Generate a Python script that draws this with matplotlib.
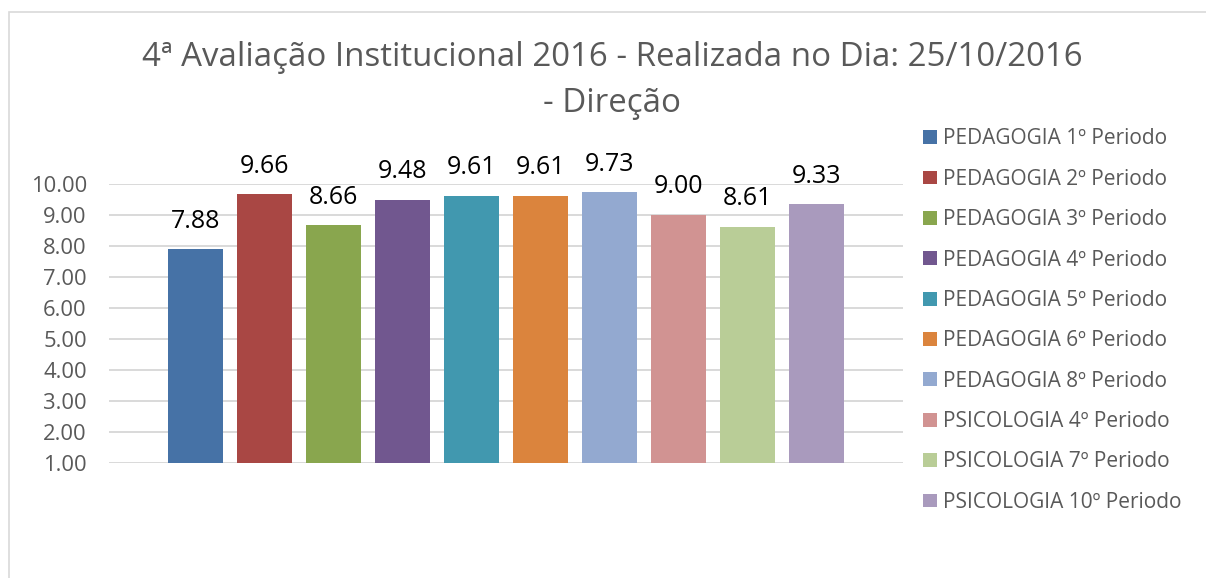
import numpy as np
import matplotlib.pyplot as plt
from matplotlib.patches import Rectangle

# data
series = ["PEDAGOGIA 1º Periodo", "PEDAGOGIA 2º Periodo", "PEDAGOGIA 3º Periodo",
          "PEDAGOGIA 4º Periodo", "PEDAGOGIA 5º Periodo", "PEDAGOGIA 6º Periodo",
          "PEDAGOGIA 8º Periodo", "PSICOLOGIA 4º Periodo", "PSICOLOGIA 7º Periodo",
          "PSICOLOGIA 10º Periodo"]
values = [7.88, 9.66, 8.66, 9.48, 9.61, 9.61, 9.73, 9.00, 8.61, 9.33]
colors = ["#4672A6", "#A94744", "#89A64E", "#71578F", "#4198AF",
          "#DB843D", "#93A9D0", "#D19392", "#B9CD97", "#A99ABD"]
yticks = [1, 2, 3, 4, 5, 6, 7, 8, 9, 10]

plt.rcParams['font.family'] = ['Open Sans', 'DejaVu Sans']
gray = "#595959"

fig = plt.figure(figsize=(12.06, 5.78), dpi=100)
ax = fig.add_axes([109/1206, 1 - 463/578, (903-109)/1206, (463-183.5)/578])

x = np.arange(len(values))
base = 1.0
for i, (v, c, s) in enumerate(zip(values, colors, series)):
    ax.bar(x[i], v - base, bottom=base, width=0.8, color=c, label=s, zorder=3)
    ax.annotate(f"{v:.2f}", (x[i], v), xytext=(0, 11), textcoords="offset points",
                ha="center", va="bottom", fontsize=18, color="black",
                annotation_clip=False)

ax.set_xlim(-1.25, 10.25)
ax.set_ylim(1, 10)
ax.set_yticks(yticks)
ax.set_yticklabels([f"{t:.2f}" for t in yticks], fontsize=15.8, color=gray)
ax.set_xticks([])
ax.tick_params(axis='y', length=0, pad=16)
ax.grid(axis='y', color="#d9d9d9", linewidth=1.4, zorder=0)
for sp in ax.spines.values():
    sp.set_visible(False)

fig.text(612/1206, 1 - 57/578, "4ª Avaliação Institucional 2016 - Realizada no Dia: 25/10/2016",
         ha="center", va="center", fontsize=23.8, color=gray)
fig.text(612/1206, 1 - 103/578, "- Direção",
         ha="center", va="center", fontsize=23.8, color=gray)

handles, labels = ax.get_legend_handles_labels()
leg = fig.legend(handles, labels, loc="upper left", bbox_to_anchor=(913/1206, 1 - 118/578),
                 frameon=False, fontsize=15, labelcolor=gray, handlelength=0.65,
                 handleheight=0.65, handletextpad=0.3, labelspacing=0.93, borderpad=0)

# chart border
fig.patches.append(Rectangle((9/1206, -0.1), 1.2, 1 - 12/578 + 0.1, transform=fig.transFigure,
                             fill=False, edgecolor="#d9d9d9", linewidth=1.2))

plt.savefig("out.png", dpi=100)
